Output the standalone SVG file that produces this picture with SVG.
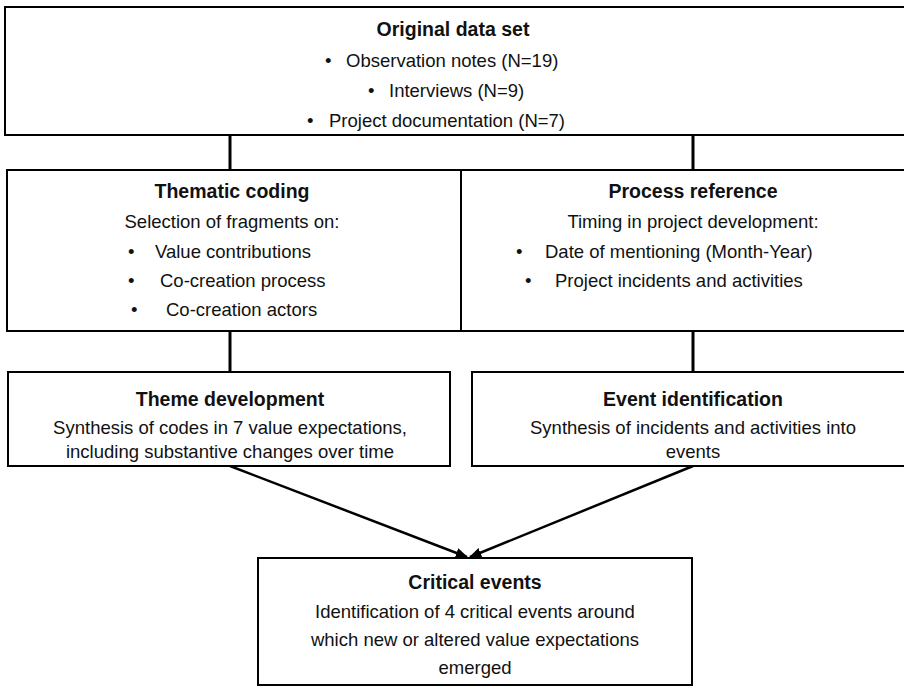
<svg xmlns="http://www.w3.org/2000/svg" width="904" height="689" viewBox="0 0 904 689">
<defs>
<marker id="ah" viewBox="0 0 10 10" refX="9" refY="5" markerWidth="5" markerHeight="5" orient="auto" markerUnits="strokeWidth">
<path d="M0,1 L10,5 L0,9 z" fill="#000"/>
</marker>
</defs>
<style>
.box{fill:#fff;stroke:#000;stroke-width:2}
.t{font-family:"Liberation Sans","DejaVu Sans",sans-serif;font-size:18.5px;fill:#111;text-anchor:middle}
.b{font-weight:bold;font-size:19.5px}
.l{text-anchor:start}
.c{stroke:#000;stroke-width:3;fill:none}
.a{stroke:#000;stroke-width:2.5;fill:none;marker-end:url(#ah)}
</style>
<rect width="904" height="689" fill="#fff"/>
<g id="connectors">
<line class="c" x1="230" y1="135" x2="230" y2="170"/>
<line class="c" x1="693" y1="135" x2="693" y2="170"/>
<line class="c" x1="230" y1="331" x2="230" y2="372"/>
<line class="c" x1="693" y1="331" x2="693" y2="372"/>
<line class="a" x1="230" y1="466" x2="467" y2="557"/>
<line class="a" x1="693" y1="466" x2="470" y2="557"/>
</g>
<g id="original">
<rect class="box" x="5" y="7" width="904" height="128"/>
<text class="t b" x="453" y="36">Original data set</text>
<text class="t l" x="325" y="67">•</text><text class="t l" x="346" y="67">Observation notes (N=19)</text>
<text class="t l" x="368" y="97">•</text><text class="t l" x="389" y="97">Interviews (N=9)</text>
<text class="t l" x="307" y="127">•</text><text class="t l" x="329" y="127">Project documentation (N=7)</text>
</g>
<g id="thematic">
<rect class="box" x="7" y="170" width="454" height="161"/>
<text class="t b" x="232" y="198">Thematic coding</text>
<text class="t" x="232" y="228">Selection of fragments on:</text>
<text class="t l" x="128" y="258">•</text><text class="t l" x="155" y="258">Value contributions</text>
<text class="t l" x="128" y="287">•</text><text class="t l" x="160" y="287">Co-creation process</text>
<text class="t l" x="131" y="316">•</text><text class="t l" x="166" y="316">Co-creation actors</text>
</g>
<g id="process">
<rect class="box" x="461" y="170" width="445" height="161"/>
<text class="t b" x="693" y="198">Process reference</text>
<text class="t" x="693" y="228">Timing in project development:</text>
<text class="t l" x="516" y="258">•</text><text class="t l" x="545" y="258">Date of mentioning (Month-Year)</text>
<text class="t l" x="525" y="287">•</text><text class="t l" x="555" y="287">Project incidents and activities</text>
</g>
<g id="theme">
<rect class="box" x="8" y="372" width="442" height="94"/>
<text class="t b" x="230" y="406">Theme development</text>
<text class="t" x="230" y="434">Synthesis of codes in 7 value expectations,</text>
<text class="t" x="230" y="458">including substantive changes over time</text>
</g>
<g id="event">
<rect class="box" x="472" y="372" width="434" height="94"/>
<text class="t b" x="693" y="406">Event identification</text>
<text class="t" x="693" y="434">Synthesis of incidents and activities into</text>
<text class="t" x="693" y="458">events</text>
</g>
<g id="critical">
<rect class="box" x="258" y="558" width="434" height="127"/>
<text class="t b" x="475" y="589">Critical events</text>
<text class="t" x="475" y="618">Identification of 4 critical events around</text>
<text class="t" x="475" y="646">which new or altered value expectations</text>
<text class="t" x="475" y="674">emerged</text>
</g>
</svg>
